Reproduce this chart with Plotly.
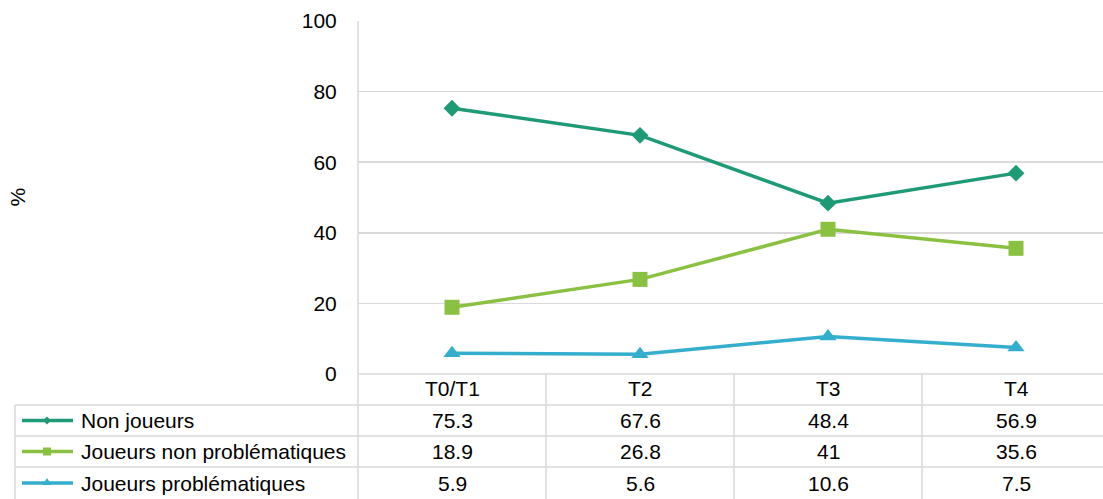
import plotly.graph_objects as go

categories = ["T0/T1", "T2", "T3", "T4"]
series_names = ["Non joueurs", "Joueurs non problématiques", "Joueurs problématiques"]
non_joueurs = [75.3, 67.6, 48.4, 56.9]
joueurs_non_prob = [18.9, 26.8, 41, 35.6]
joueurs_prob = [5.9, 5.6, 10.6, 7.5]
value_labels = [["75.3", "67.6", "48.4", "56.9"],
                ["18.9", "26.8", "41", "35.6"],
                ["5.9", "5.6", "10.6", "7.5"]]
y_ticks = [0, 20, 40, 60, 80, 100]

colors = ["#1F9A76", "#8BC143", "#35AECD"]
symbols = ["diamond", "square", "triangle-up"]
msizes = [13, 15, 15]

W, H = 1103, 499
FONT = "Liberation Sans, Arial, sans-serif"
GRID = "#D9D9D9"

# plot area in pixels
px_left, px_right = 358, W
py_top, py_bottom = 21, 374
xdom = [px_left / W, px_right / W]
ydom = [1 - py_bottom / H, 1 - py_top / H]
col_w = 188.0
xr = [-0.5, -0.5 + (px_right - px_left) / col_w]
yr = [0, 100]

def xpap(v):
    return xdom[0] + (v - xr[0]) / (xr[1] - xr[0]) * (xdom[1] - xdom[0])

def ppx(px):
    return px / W

def ppy(py):
    return 1 - py / H

xs = list(range(len(categories)))
fig = go.Figure()
for vals, name, c, s, ms in zip([non_joueurs, joueurs_non_prob, joueurs_prob],
                                series_names, colors, symbols, msizes):
    fig.add_trace(go.Scatter(x=xs, y=vals, mode="lines+markers", name=name,
                             line=dict(color=c, width=3.5),
                             marker=dict(symbol=s, size=ms, color=c),
                             showlegend=False, cliponaxis=False))

shapes = []
annotations = []
lw = 1.5
row_lines = [405, 436, 467, 499]
table_left = 15
shapes.append(dict(type="line", xref="paper", yref="paper",
                   x0=ppx(px_left), x1=1.0, y0=ppy(py_bottom), y1=ppy(py_bottom),
                   line=dict(color=GRID, width=lw)))
for ry in row_lines[:-1]:
    shapes.append(dict(type="line", xref="paper", yref="paper",
                       x0=ppx(table_left), x1=1.0, y0=ppy(ry), y1=ppy(ry),
                       line=dict(color=GRID, width=lw)))
shapes.append(dict(type="line", xref="paper", yref="paper",
                   x0=ppx(table_left), x1=ppx(table_left), y0=ppy(row_lines[0]), y1=0,
                   line=dict(color=GRID, width=lw)))
shapes.append(dict(type="line", xref="paper", yref="paper",
                   x0=ppx(px_left), x1=ppx(px_left), y0=ppy(py_top), y1=0,
                   line=dict(color=GRID, width=lw)))
for i in range(len(categories) - 1):
    xb = xpap(i + 0.5)
    shapes.append(dict(type="line", xref="paper", yref="paper",
                       x0=xb, x1=xb, y0=ppy(py_bottom), y1=0,
                       line=dict(color=GRID, width=lw)))

tf = dict(family=FONT, size=21, color="#000000")
header_y = (py_bottom + row_lines[0]) / 2 - 1
for i, cat in enumerate(categories):
    annotations.append(dict(text=cat, xref="paper", yref="paper", x=xpap(i), y=ppy(header_y),
                            showarrow=False, xanchor="center", yanchor="middle", font=tf))
for r in range(3):
    cy = (row_lines[r] + row_lines[r + 1]) / 2
    for i in range(len(categories)):
        annotations.append(dict(text=value_labels[r][i], xref="paper", yref="paper",
                                x=xpap(i), y=ppy(cy), showarrow=False,
                                xanchor="center", yanchor="middle", font=tf))
    annotations.append(dict(text=series_names[r], xref="paper", yref="paper",
                            x=ppx(79), y=ppy(cy), showarrow=False,
                            xanchor="left", yanchor="middle", font=tf))
    shapes.append(dict(type="line", xref="paper", yref="paper",
                       x0=ppx(22), x1=ppx(73), y0=ppy(cy), y1=ppy(cy),
                       line=dict(color=colors[r], width=3.5)))
    mx, my = 47, cy
    if r == 0:
        d = 4
        path = f"M {ppx(mx-d)} {ppy(my)} L {ppx(mx)} {ppy(my-d)} L {ppx(mx+d)} {ppy(my)} L {ppx(mx)} {ppy(my+d)} Z"
    elif r == 1:
        d = 4
        path = f"M {ppx(mx-d)} {ppy(my-d)} L {ppx(mx+d)} {ppy(my-d)} L {ppx(mx+d)} {ppy(my+d)} L {ppx(mx-d)} {ppy(my+d)} Z"
    else:
        d = 4.5
        path = f"M {ppx(mx-d)} {ppy(my+2)} L {ppx(mx)} {ppy(my-5)} L {ppx(mx+d)} {ppy(my+2)} Z"
    shapes.append(dict(type="path", xref="paper", yref="paper", path=path,
                       fillcolor=colors[r], line=dict(color=colors[r], width=0)))

annotations.append(dict(text="%", xref="paper", yref="paper", x=ppx(17),
                        y=(ydom[0] + ydom[1]) / 2, showarrow=False, textangle=-90,
                        xanchor="center", yanchor="middle", font=tf))

fig.update_layout(
    width=W, height=H, autosize=False,
    margin=dict(l=0, r=0, t=0, b=0, pad=0, autoexpand=False),
    paper_bgcolor="white", plot_bgcolor="white",
    font=tf,
    shapes=shapes, annotations=annotations,
    xaxis=dict(domain=xdom, range=xr, showgrid=False, zeroline=False, automargin=False,
               showticklabels=False, showline=False, fixedrange=True),
    yaxis=dict(domain=ydom, range=yr, tickvals=y_ticks, showgrid=True, automargin=False,
               gridcolor=GRID, gridwidth=lw, zeroline=False, showline=False,
               ticks="outside", ticklen=16, tickcolor="rgba(0,0,0,0)",
               tickfont=tf, fixedrange=True),
)

fig.write_html("out.html", config={"displayModeBar": False, "staticPlot": True})
with open("out.html", "r", encoding="utf-8") as f:
    html = f.read()
html = html.replace("<body>", '<body style="margin:0;overflow:hidden">', 1)
with open("out.html", "w", encoding="utf-8") as f:
    f.write(html)
